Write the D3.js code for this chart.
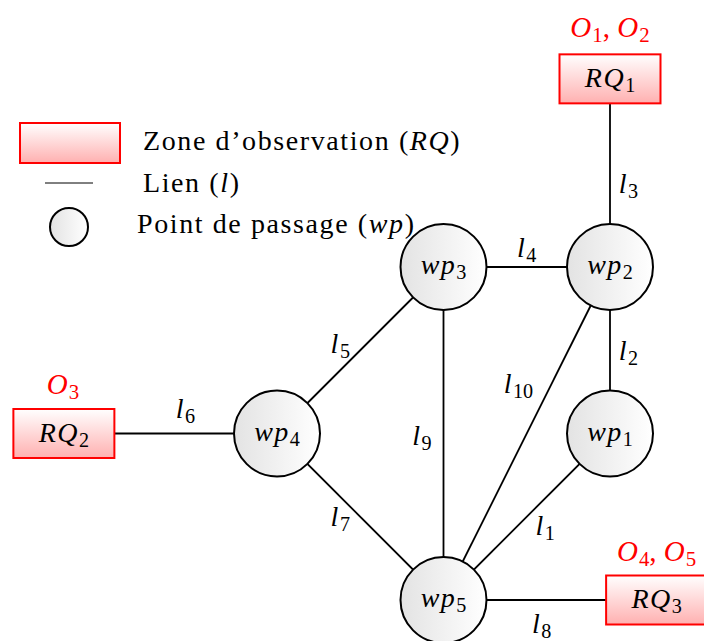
<!DOCTYPE html>
<html><head><meta charset="utf-8">
<script src="https://cdn.jsdelivr.net/npm/d3@7"></script>
<style>html,body{margin:0;padding:0;background:#fff;}svg{display:block;}</style>
</head><body>
<svg id="c" width="704" height="641"></svg>
<script>
// ---- data (grid units) ----
const waypoints = [
  {id:"wp1", name:"wp", sub:"1", u:2, v:1},
  {id:"wp2", name:"wp", sub:"2", u:2, v:0},
  {id:"wp3", name:"wp", sub:"3", u:1, v:0},
  {id:"wp4", name:"wp", sub:"4", u:0, v:1},
  {id:"wp5", name:"wp", sub:"5", u:1, v:2}
];
const zones = [
  {id:"RQ1", name:"RQ", sub:"1", u:2, v:-1.13, obs:[["O","1"],["O","2"]], ou:2, ov:-1.435},
  {id:"RQ2", name:"RQ", sub:"2", u:-1.28, v:1, obs:[["O","3"]], ou:-1.285, ov:0.71},
  {id:"RQ3", name:"RQ", sub:"3", u:2.28, v:2, obs:[["O","4"],["O","5"]], ou:2.28, ov:1.71}
];
const links = [
  {name:"l", sub:"1", s:"wp1", t:"wp5", lu:1.61, lv:1.56},
  {name:"l", sub:"2", s:"wp2", t:"wp1", lu:2.11, lv:0.51},
  {name:"l", sub:"3", s:"RQ1", t:"wp2", lu:2.11, lv:-0.49},
  {name:"l", sub:"4", s:"wp3", t:"wp2", lu:1.50, lv:-0.11},
  {name:"l", sub:"5", s:"wp3", t:"wp4", lu:0.38, lv:0.47},
  {name:"l", sub:"6", s:"RQ2", t:"wp4", lu:-0.55, lv:0.86},
  {name:"l", sub:"7", s:"wp4", t:"wp5", lu:0.38, lv:1.51},
  {name:"l", sub:"8", s:"wp5", t:"RQ3", lu:1.59, lv:2.15},
  {name:"l", sub:"9", s:"wp3", t:"wp5", lu:0.87, lv:1.02},
  {name:"l", sub:"10", s:"wp2", t:"wp5", lu:1.45, lv:0.71}
];
const legendItems = [
  {type:"zone", parts:[["Zone d’observation (",""],["RQ","i"],[")",""]]},
  {type:"link", parts:[["Lien (",""],["l","i"],[")",""]]},
  {type:"wp", parts:[["Point de passage (",""],["wp","i"],[")",""]]}
];

// ---- scales ----
const x = d3.scaleLinear().domain([0,1]).range([277,443.5]);
const y = d3.scaleLinear().domain([0,1]).range([267,433.5]);

const FONT = "'Liberation Serif', serif";
const FS = 28;
const svg = d3.select("#c");
const defs = svg.append("defs");
const gc = defs.append("linearGradient").attr("id","gCirc").attr("x1","0").attr("x2","1").attr("y1","0").attr("y2","0");
gc.append("stop").attr("offset","0").attr("stop-color","#e3e3e3");
gc.append("stop").attr("offset","1").attr("stop-color","#ffffff");
const gb = defs.append("linearGradient").attr("id","gBox").attr("x1","0").attr("x2","0").attr("y1","0").attr("y2","1");
gb.append("stop").attr("offset","0").attr("stop-color","#ffffff");
gb.append("stop").attr("offset","1").attr("stop-color","#ffb0b0");

const R = 43, BW = 101, BH = 49;
const pos = {};
waypoints.forEach(d => pos[d.id] = [x(d.u), y(d.v)]);
zones.forEach(d => pos[d.id] = [x(d.u), y(d.v)]);

function mathText(g, name, sub, size, color){
  const t = g.append("text").attr("font-family", FONT).attr("font-size", size)
    .attr("fill", color).attr("text-anchor","middle");
  t.append("tspan").attr("font-style","italic").attr("letter-spacing", 1.5).text(name);
  t.append("tspan").attr("font-size", size*0.72).attr("dy", size*0.18).text(sub);
  return t;
}

// links
svg.append("g").selectAll("line").data(links).join("line")
  .attr("x1", d => pos[d.s][0]).attr("y1", d => pos[d.s][1])
  .attr("x2", d => pos[d.t][0]).attr("y2", d => pos[d.t][1])
  .attr("stroke","#000").attr("stroke-width",1.8);

// link labels
links.forEach(d => {
  const g = svg.append("g").attr("transform", `translate(${x(d.lu)},${y(d.lv)+8})`);
  mathText(g, d.name, d.sub, FS, "#000");
});

// zones
zones.forEach(d => {
  const g = svg.append("g").attr("transform", `translate(${pos[d.id][0]},${pos[d.id][1]})`);
  g.append("rect").attr("x",-BW/2).attr("y",-BH/2).attr("width",BW).attr("height",BH)
    .attr("fill","url(#gBox)").attr("stroke","#ff0000").attr("stroke-width",2);
  mathText(g, d.name, d.sub, FS, "#000").attr("y", 8);
  const og = svg.append("g").attr("transform", `translate(${x(d.ou)},${y(d.ov)+9})`);
  const ot = og.append("text").attr("font-family",FONT).attr("font-size",FS+1).attr("fill","#ff0000").attr("text-anchor","middle");
  d.obs.forEach((o,i) => {
    if(i>0) ot.append("tspan").attr("dy", -(FS+1)*0.18).text(", ");
    ot.append("tspan").attr("font-style","italic").attr("letter-spacing",1).text(o[0]);
    ot.append("tspan").attr("font-size",(FS+1)*0.72).attr("dy",(FS+1)*0.18).text(o[1]);
  });
});

// waypoints
waypoints.forEach(d => {
  const g = svg.append("g").attr("transform", `translate(${pos[d.id][0]},${pos[d.id][1]})`);
  g.append("circle").attr("r",R).attr("fill","url(#gCirc)").attr("stroke","#000").attr("stroke-width",2);
  mathText(g, d.name, d.sub, FS, "#000").attr("y",7);
});

// legend
const lg = svg.append("g");
lg.append("rect").attr("x",20).attr("y",123).attr("width",100).attr("height",40)
  .attr("fill","url(#gBox)").attr("stroke","#ff0000").attr("stroke-width",2);
lg.append("line").attr("x1",45).attr("x2",93).attr("y1",183).attr("y2",183).attr("stroke","#000").attr("stroke-width",1);
lg.append("circle").attr("cx",69).attr("cy",227).attr("r",19).attr("fill","url(#gCirc)").attr("stroke","#000").attr("stroke-width",2);
const legX = [143,143,137], legY = [150,192,233];
legendItems.forEach((it,i) => {
  const t = lg.append("text").attr("x",legX[i]).attr("y",legY[i]).attr("font-family",FONT)
    .attr("font-size",FS).attr("letter-spacing",1.6).attr("fill","#000");
  it.parts.forEach(p => {
    const s = t.append("tspan").text(p[0]);
    if(p[1]==="i") s.attr("font-style","italic");
  });
});
</script>
</body></html>
